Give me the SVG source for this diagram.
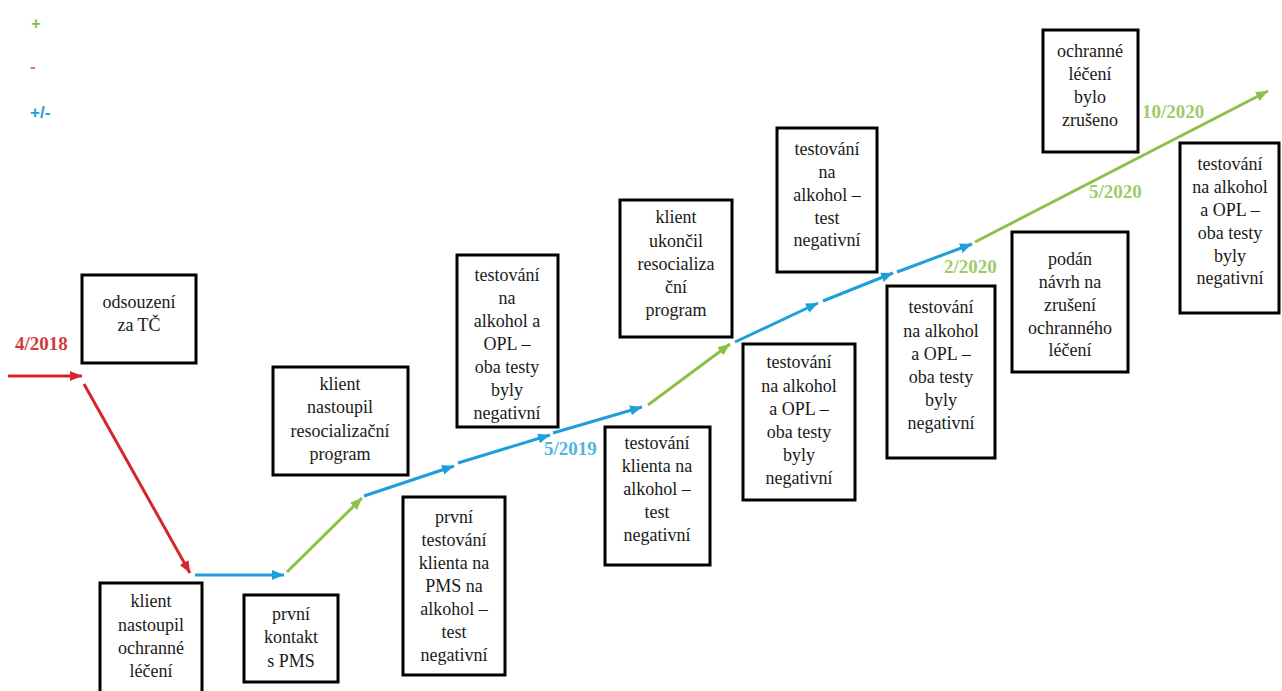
<svg xmlns="http://www.w3.org/2000/svg" width="1282" height="691" viewBox="0 0 1282 691">
<style>
.box{fill:#fff;stroke:#000;stroke-width:3}
.t{font-family:"Liberation Serif","Times New Roman",serif;font-size:18px;fill:#1a1a1a;text-anchor:middle}
.d{font-family:"Liberation Serif","Times New Roman",serif;font-size:19px;font-weight:bold}
.lg{font-family:"Liberation Sans",Arial,sans-serif;font-size:17px;font-weight:bold}
.r{stroke:#d7262b;stroke-width:3;fill:none}
.b{stroke:#1f9fd9;stroke-width:3;fill:none}
.g{stroke:#8cc04a;stroke-width:3;fill:none}
</style>
<defs>
<marker id="ar" markerUnits="userSpaceOnUse" markerWidth="14" markerHeight="12" refX="12" refY="5" orient="auto"><path d="M0,0 L12,5 L0,10 Z" fill="#d7262b"/></marker>
<marker id="ab" markerUnits="userSpaceOnUse" markerWidth="14" markerHeight="12" refX="12" refY="5" orient="auto"><path d="M0,0 L12,5 L0,10 Z" fill="#1f9fd9"/></marker>
<marker id="ag" markerUnits="userSpaceOnUse" markerWidth="14" markerHeight="12" refX="12" refY="5" orient="auto"><path d="M0,0 L12,5 L0,10 Z" fill="#8cc04a"/></marker>
</defs>
<rect width="1282" height="691" fill="#fff"/>
<g id="legend">
<text class="lg" x="31" y="29" fill="#8cc04a">+</text>
<text class="lg" x="30" y="72" fill="#e07b39">-</text>
<text class="lg" x="30" y="118" fill="#1f9fd9">+/-</text>
</g>
<g id="connectors">
<line class="r" x1="8" y1="376" x2="82" y2="376" marker-end="url(#ar)"/>
<line class="r" x1="84" y1="384" x2="190" y2="573" marker-end="url(#ar)"/>
<line class="b" x1="195" y1="575" x2="284" y2="575" marker-end="url(#ab)"/>
<line class="g" x1="287" y1="572" x2="362" y2="498" marker-end="url(#ag)"/>
<line class="b" x1="364" y1="496" x2="454" y2="466" marker-end="url(#ab)"/>
<line class="b" x1="458" y1="463" x2="550" y2="435" marker-end="url(#ab)"/>
<line class="b" x1="553" y1="433" x2="642" y2="407" marker-end="url(#ab)"/>
<line class="g" x1="648" y1="405" x2="730" y2="344" marker-end="url(#ag)"/>
<line class="b" x1="735" y1="342" x2="818" y2="303" marker-end="url(#ab)"/>
<line class="b" x1="823" y1="301" x2="893" y2="273" marker-end="url(#ab)"/>
<line class="b" x1="897" y1="272" x2="972" y2="244" marker-end="url(#ab)"/>
<line class="g" x1="975" y1="242" x2="1268" y2="91" marker-end="url(#ag)"/>
</g>
<g id="dates">
<text class="d" x="15" y="350" fill="#d23a3a">4/2018</text>
<text class="d" x="544" y="455" fill="#4fb4e0">5/2019</text>
<text class="d" x="944" y="273" fill="#9ccc6a">2/2020</text>
<text class="d" x="1089" y="198" fill="#9ccc6a">5/2020</text>
<text class="d" x="1142" y="118" fill="#9ccc6a">10/2020</text>
</g>
<g id="n1"><rect class="box" x="82" y="275" width="114" height="88"/>
<text class="t" x="139" y="308">odsouzení</text><text class="t" x="139" y="331">za TČ</text></g>
<g id="n2"><rect class="box" x="100" y="583" width="102" height="120"/>
<text class="t" x="151" y="607">klient</text><text class="t" x="151" y="631">nastoupil</text><text class="t" x="151" y="654">ochranné</text><text class="t" x="151" y="677">léčení</text></g>
<g id="n3"><rect class="box" x="244" y="595" width="94" height="87"/>
<text class="t" x="291" y="620">první</text><text class="t" x="291" y="643">kontakt</text><text class="t" x="291" y="667">s PMS</text></g>
<g id="n4"><rect class="box" x="273" y="367" width="135" height="108"/>
<text class="t" x="340" y="390">klient</text><text class="t" x="340" y="413">nastoupil</text><text class="t" x="340" y="437">resocializační</text><text class="t" x="340" y="460">program</text></g>
<g id="n5"><rect class="box" x="403" y="497" width="102" height="178"/>
<text class="t" x="454" y="523">první</text><text class="t" x="454" y="546">testování</text><text class="t" x="454" y="569">klienta na</text><text class="t" x="454" y="592">PMS na</text><text class="t" x="454" y="615">alkohol –</text><text class="t" x="454" y="638">test</text><text class="t" x="454" y="661">negativní</text></g>
<g id="n6"><rect class="box" x="457" y="255" width="101" height="172"/>
<text class="t" x="507" y="281">testování</text><text class="t" x="507" y="304">na</text><text class="t" x="507" y="327">alkohol a</text><text class="t" x="507" y="350">OPL –</text><text class="t" x="507" y="373">oba testy</text><text class="t" x="507" y="396">byly</text><text class="t" x="507" y="419">negativní</text></g>
<g id="n7"><rect class="box" x="620" y="200" width="112" height="137"/>
<text class="t" x="676" y="223">klient</text><text class="t" x="676" y="247">ukončil</text><text class="t" x="676" y="270">resocializa</text><text class="t" x="676" y="293">ční</text><text class="t" x="676" y="316">program</text></g>
<g id="n8"><rect class="box" x="605" y="427" width="105" height="138"/>
<text class="t" x="657" y="449">testování</text><text class="t" x="657" y="472">klienta na</text><text class="t" x="657" y="495">alkohol –</text><text class="t" x="657" y="518">test</text><text class="t" x="657" y="541">negativní</text></g>
<g id="n9"><rect class="box" x="777" y="128" width="100" height="144"/>
<text class="t" x="827" y="155">testování</text><text class="t" x="827" y="178">na</text><text class="t" x="827" y="201">alkohol –</text><text class="t" x="827" y="224">test</text><text class="t" x="827" y="246">negativní</text></g>
<g id="n10"><rect class="box" x="743" y="344" width="112" height="156"/>
<text class="t" x="799" y="368">testování</text><text class="t" x="799" y="392">na alkohol</text><text class="t" x="799" y="415">a OPL –</text><text class="t" x="799" y="438">oba testy</text><text class="t" x="799" y="461">byly</text><text class="t" x="799" y="484">negativní</text></g>
<g id="n11"><rect class="box" x="887" y="286" width="108" height="172"/>
<text class="t" x="941" y="313">testování</text><text class="t" x="941" y="337">na alkohol</text><text class="t" x="941" y="360">a OPL –</text><text class="t" x="941" y="383">oba testy</text><text class="t" x="941" y="406">byly</text><text class="t" x="941" y="429">negativní</text></g>
<g id="n12"><rect class="box" x="1012" y="232" width="116" height="140"/>
<text class="t" x="1070" y="265">podán</text><text class="t" x="1070" y="288">návrh na</text><text class="t" x="1070" y="311">zrušení</text><text class="t" x="1070" y="334">ochranného</text><text class="t" x="1070" y="356">léčení</text></g>
<g id="n13"><rect class="box" x="1043" y="30" width="95" height="122"/>
<text class="t" x="1090" y="57">ochranné</text><text class="t" x="1090" y="80">léčení</text><text class="t" x="1090" y="103">bylo</text><text class="t" x="1090" y="126">zrušeno</text></g>
<g id="n14"><rect class="box" x="1180" y="143" width="99" height="170"/>
<text class="t" x="1230" y="170">testování</text><text class="t" x="1230" y="193">na alkohol</text><text class="t" x="1230" y="216">a OPL –</text><text class="t" x="1230" y="239">oba testy</text><text class="t" x="1230" y="262">byly</text><text class="t" x="1230" y="284">negativní</text></g>
</svg>
